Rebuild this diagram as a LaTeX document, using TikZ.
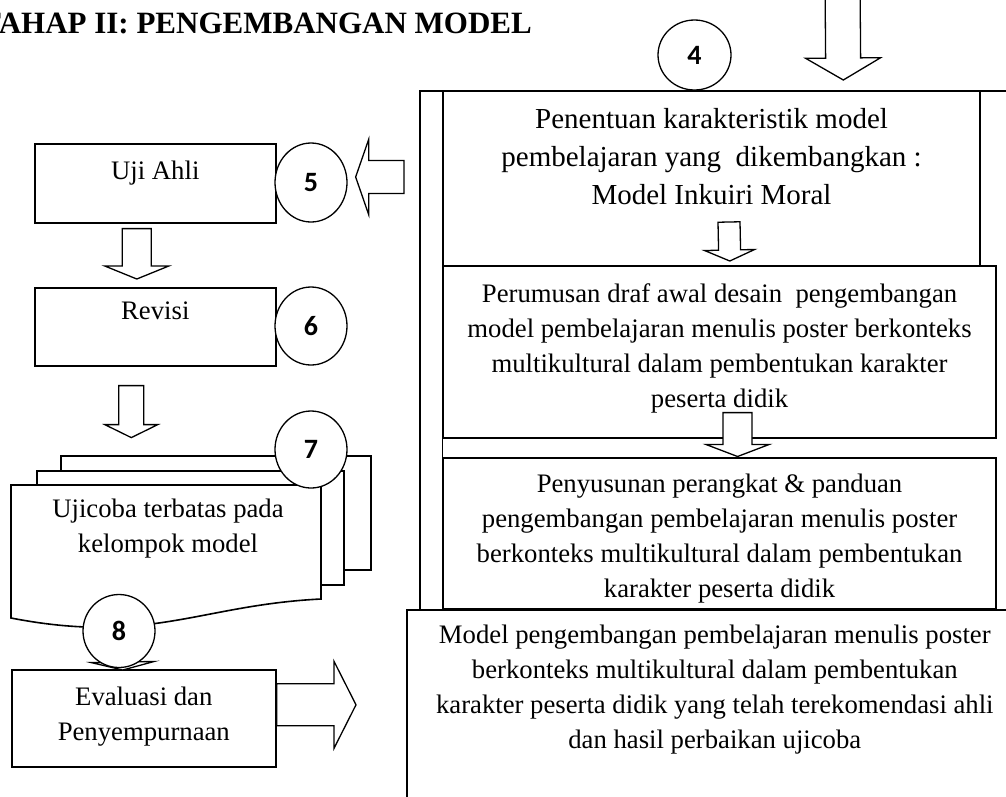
\documentclass[tikz,border=0pt]{standalone}
\usepackage{fontspec}
\setmainfont{Liberation Serif}
\newfontfamily\numfont{Carlito}
\usetikzlibrary{positioning,calc,shapes.geometric}

\newcommand\blockarrow[5]{%
  \coordinate (ba-a) at (#1);
  \coordinate (ba-b) at (#2);
  \coordinate (ba-h) at ($(ba-b)!#5!(ba-a)$);
  \draw[barrow] ($(ba-a)!#3!90:(ba-b)$) -- ($(ba-h)!#3!90:(ba-b)$) -- ($(ba-h)!#4!90:(ba-b)$) -- (ba-b)
    -- ($(ba-h)!#4!-90:(ba-b)$) -- ($(ba-h)!#3!-90:(ba-b)$) -- ($(ba-a)!#3!-90:(ba-b)$) -- cycle;}

\begin{document}
\begin{tikzpicture}[x=1pt, y=-1pt,
  box/.style={draw, fill=white, line width=1.6pt, inner sep=0pt, anchor=north west},
  page/.style={draw, fill=white, line width=1.6pt},
  num/.style={draw, ellipse, fill=white, line width=1.3pt, inner sep=0pt, font=\numfont\bfseries\fontsize{28}{28}\selectfont},
  txt/.style={align=center, inner sep=0pt, anchor=north, font=\fontsize{26.7}{35}\selectfont},
  barrow/.style={draw, fill=white, line width=1.3pt, line join=miter}]
\useasboundingbox (0,0) rectangle (1006,796);
\clip (0,0) rectangle (1006,796);

\node[font=\bfseries\fontsize{31}{31}\selectfont, anchor=base east, inner sep=0pt] (title) at (532,33) {TAHAP II: PENGEMBANGAN MODEL};

% kiri
\node[box, minimum width=241pt, minimum height=79pt] (uji) at (34,143) {};
\node[txt, below=17.8pt of uji.north] {Uji Ahli};
\node[num, minimum width=72pt, minimum height=79pt] (n5) at (311,182.5) {5};
\node[box, minimum width=241pt, minimum height=78pt] (revisi) at (34,287) {};
\node[txt, below=14.8pt of revisi.north] {Revisi};
\node[num, minimum width=72pt, minimum height=78pt] (n6) at (311,326) {6};
\blockarrow{$(uji.south)+(-18.5,5)$}{$(revisi.north)+(-18.5,-8)$}{14.5pt}{32pt}{13pt}
\blockarrow{$(revisi.south)+(-24,19)$}{$(revisi.south)+(-24,71)$}{12.5pt}{26.5pt}{13pt}

\draw[page] (61,456) rectangle (371,570);
\draw[page] (37,471) rectangle (344,585);
\draw[page] (11,485) coordinate (ujicoba) -- (321,485) -- (321,599)
  .. controls (200,605) and (150,645) .. (11,618) -- cycle;
\node[txt] at ($(ujicoba)+(157,13.8)$) {Ujicoba terbatas pada\\kelompok model};
\node[num, minimum width=72pt, minimum height=77pt] (n7) at (311,449.5) {7};

\node[box, minimum width=264pt, minimum height=97pt] (evaluasi) at (11,669) {};
\node[txt, below=17.8pt of evaluasi.north] {Evaluasi dan\\Penyempurnaan};
\blockarrow{122,624}{$(evaluasi.north)+(-21,1)$}{15pt}{31.5pt}{8pt}
\node[num, minimum width=72pt, minimum height=73pt] (n8) at (119,631) {8};

% kanan
\node[num, minimum width=73pt, minimum height=70pt] (n4) at (694.5,55) {4};
\node[box, minimum width=611pt, minimum height=519pt] (frame) at (419,90) {};
\draw[line width=1.6pt] ($(frame.north west)+(23.5,0)$) -- ($(frame.south west)+(23.5,0)$);
\blockarrow{842.5,-20}{$(frame.north)+(118,-10)$}{17.5pt}{37.5pt}{22pt}

\node[box, minimum width=536.5pt, minimum height=175pt] (karakter) at (442.5,90) {};
\draw[line width=0.8pt] (karakter.north east) -- (karakter.south east);
\node[txt, font=\fontsize{29}{38}\selectfont, below=18.2pt of karakter.north] {Penentuan karakteristik model\\pembelajaran yang~ dikembangkan :\\Model Inkuiri Moral};
\node[box, minimum width=552.5pt, minimum height=172pt] (draf) at (442.5,265) {};
\node[txt, below=18.5pt of draf.north] {Perumusan draf awal desain~ pengembangan\\model pembelajaran menulis poster berkonteks\\multikultural dalam pembentukan karakter\\peserta didik};
\blockarrow{729,222}{$(draf.north)+(10.25,-4)$}{11pt}{25pt}{11pt}
\node[box, minimum width=552.5pt, minimum height=151pt] (perangkat) at (442.5,457) {};
\node[txt, below=16.5pt of perangkat.north] {Penyusunan perangkat \& panduan\\pengembangan pembelajaran menulis poster\\berkonteks multikultural dalam pembentukan\\karakter peserta didik};
\blockarrow{$(draf.south)+(18,-26)$}{$(perangkat.north)+(18,-0.5)$}{14.5pt}{31.5pt}{12pt}
\node[box, minimum width=624pt, minimum height=221pt] (hasil) at (406,609) {};
\node[txt, below=15.8pt of hasil.north, xshift=-4pt] {Model pengembangan pembelajaran menulis poster\\berkonteks multikultural dalam pembentukan\\karakter peserta didik yang telah terekomendasi ahli\\dan hasil perbaikan ujicoba};

\blockarrow{$(evaluasi.east)+(0,-13.5)$}{$(hasil.west)+(-50,-15.5)$}{21pt}{43.5pt}{22pt}
\blockarrow{404,177}{$(n5.east)+(8,-5.5)$}{16.5pt}{37.5pt}{13pt}
\end{tikzpicture}
\end{document}
